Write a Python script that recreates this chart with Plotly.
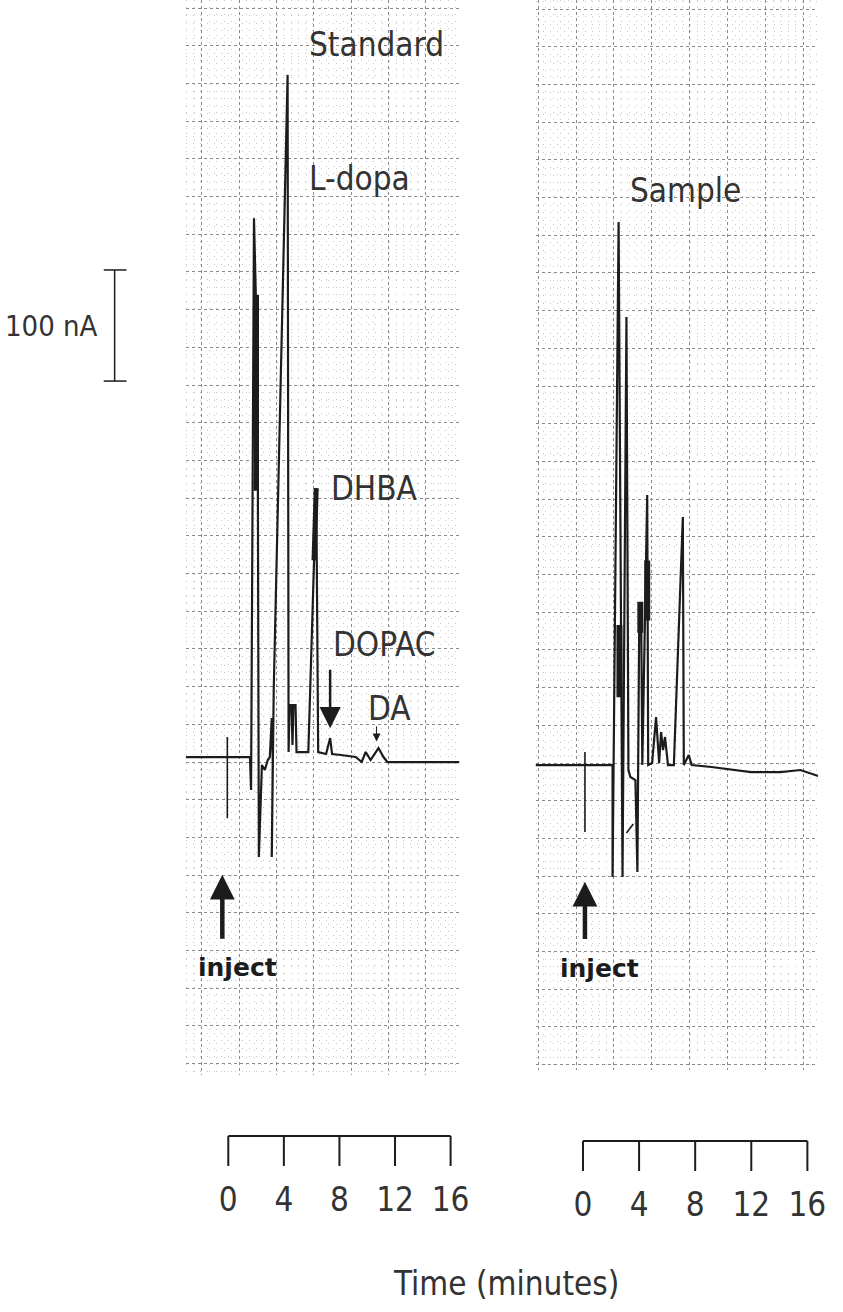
import plotly.graph_objects as go

W, H = 843, 1312
FONT = "Liberation Sans Narrow, DejaVu Sans Condensed, Arial Narrow, sans-serif"
BOLD_FONT = "DejaVu Sans, Liberation Sans, Arial, sans-serif"
INK = "#1c1c1c"
TEXT = "#333333"
GRID_MAJOR = "#8a8a8a"
GRID_MINOR = "#c6c6c6"

# ---- Standard run: time (min) vs detector current (nA above baseline)
std_t = [-3.06, 1.56, 1.64, 1.85, 1.99, 1.92, 2.06, 2.13, 2.20, 2.42, 2.63, 2.84,
         2.99, 3.13, 3.20, 3.13, 3.27, 4.27, 4.34, 4.41, 4.55, 4.62, 4.69, 4.84,
         4.91, 5.76, 6.33, 6.47, 7.04, 7.33, 7.47, 8.11, 9.17, 9.60, 9.89, 10.24,
         10.60, 10.81, 11.17, 11.45, 16.64]
std_i = [0, 0, -29.7, 485, 411, 240, 411, 240, -90, -7.2, -11.7, -2.7,
         0, 35.1, -2.7, -90, 60.3, 614, 4.5, 46.8, 46.8, 10.8, 46.8, 46.8,
         4.5, 4.5, 242, 4.5, 2.7, 17.1, 2.7, 1.8, 0, -4.5, 4.5, -2.7,
         4.5, 8.1, 0, -4.5, -4.5]
# pen overload (heavy ink) segments on the standard trace
std_heavy_t = [2.03, 2.03, None, 6.17, 6.33]
std_heavy_i = [416, 240, None, 177, 242]
# injection mark
std_inj_t = [-0.07, -0.07]
std_inj_i = [18, -55]

# ---- Sample run
smp_t = [-3.38, 2.11, 2.11, 2.54, 2.82, 3.10, 3.24, 3.38, 3.74, 3.88, 4.02, 4.16,
         4.23, 4.58, 4.65, 4.93, 5.21, 5.43, 5.57, 5.71, 5.85, 6.06, 6.48, 7.12,
         7.19, 7.54, 7.75, 9.16, 11.98, 14.09, 15.50, 16.77]
smp_i = [0, 0, -100.8, 488.7, -100.8, 403.2, -4.5, -10.8, -13.5, -96.3, 146.7, 118.8,
         0, 243, 0, 1.8, 43.2, 1.8, 29.7, 13.5, 25.2, 0, 0, 223.2,
         0, 9, 0, -1.8, -6.3, -6.3, -4.5, -9.9]
smp_heavy_t = [2.60, 2.60, None, 4.09, 4.09, None, 4.58, 4.58]
smp_heavy_i = [126, 61, None, 147, 119, None, 184, 130]
smp_hook_t = [3.10, 3.59]
smp_hook_i = [-61.2, -53.1]
smp_inj_t = [0.14, 0.14]
smp_inj_i = [11.7, -60.3]

# ---- time scale bars (minutes)
bar_ticks = [0, 4, 8, 12, 16]

# ---- peak labels (text, time, current)
std_labels = [("Standard", 5.69, 641), ("L-dopa", 5.69, 521), ("DHBA", 7.25, 242),
              ("DOPAC", 7.40, 101), ("DA", 9.89, 44)]
smp_labels = [("Sample", 3.24, 517)]

# ---- arrows: (tip time, tip current, tail current)
std_inject_arrow = (-0.43, -106, -165)
smp_inject_arrow = (0.14, -105, -158)
dopac_arrow = (7.33, 26, 80)
da_arrow = (10.67, 14, 29)
std_inject_text = (0.64, -189)
smp_inject_text = (1.20, -183)

# current scale: 100 nA bracket
scale_nA = 100
scale_low = 338.4


def px(x):
    return x / W


def py(y):
    return (H - y) / H


fig = go.Figure()


def add_line(x, y, xa, ya, width, dash=None):
    fig.add_trace(go.Scatter(x=x, y=y, mode="lines", xaxis=xa, yaxis=ya,
                             line=dict(color=INK, width=width, dash=dash),
                             hoverinfo="skip", showlegend=False))


add_line(std_t, std_i, "x", "y", 2.2)
add_line(std_heavy_t, std_heavy_i, "x", "y", 5)
add_line(std_inj_t, std_inj_i, "x", "y", 1.6)

add_line(smp_t, smp_i, "x2", "y2", 2.2)
add_line(smp_heavy_t, smp_heavy_i, "x2", "y2", 6)
add_line(smp_hook_t, smp_hook_i, "x2", "y2", 1.6)
add_line(smp_inj_t, smp_inj_i, "x2", "y2", 1.6)

# time scale bars built from the tick values
bx, by = [bar_ticks[0], bar_ticks[-1], None], [1, 1, None]
for t in bar_ticks:
    bx += [t, t, None]
    by += [1, 0, None]
add_line(bx, by, "x3", "y3", 2)
add_line(bx, by, "x4", "y4", 2)

hidden = dict(showticklabels=False, ticks="", zeroline=False, showline=False)


def grid_axis(domain, rng, tick0, dtick, anchor):
    return dict(domain=domain, range=rng, anchor=anchor, tick0=tick0, dtick=dtick,
                showgrid=True, gridcolor=GRID_MAJOR, gridwidth=1, griddash="3px,3px",
                minor=dict(tick0=tick0, dtick=dtick / 5, showgrid=True,
                           gridcolor=GRID_MINOR, gridwidth=1, griddash="1px,6px"),
                **hidden)


def bar_axis(domain, rng, anchor):
    return dict(domain=domain, range=rng, anchor=anchor, showgrid=False, zeroline=False,
                showline=False, ticks="", tickmode="array", tickvals=bar_ticks,
                ticktext=[str(v) for v in bar_ticks], ticklabelstandoff=8,
                tickfont=dict(family=FONT, size=33, color=TEXT))


annotations = []
for txt, t, i in std_labels:
    annotations.append(dict(x=t, y=i, xref="x", yref="y", text=txt, showarrow=False,
                            xanchor="left", yanchor="middle",
                            font=dict(family=FONT, size=33, color=TEXT)))
for txt, t, i in smp_labels:
    annotations.append(dict(x=t, y=i, xref="x2", yref="y2", text=txt, showarrow=False,
                            xanchor="left", yanchor="middle",
                            font=dict(family=FONT, size=33, color=TEXT)))


def arrow(spec, xr, yr, width, size):
    t, tip, tail = spec
    return dict(x=t, y=tip, ax=t, ay=tail, xref=xr, yref=yr, axref=xr, ayref=yr,
                text="", showarrow=True, arrowhead=2, arrowsize=size,
                arrowwidth=width, arrowcolor=INK)


annotations += [
    arrow(std_inject_arrow, "x", "y", 4.5, 1.1),
    arrow(smp_inject_arrow, "x2", "y2", 4.5, 1.1),
    arrow(dopac_arrow, "x", "y", 2.5, 1.7),
    arrow(da_arrow, "x", "y", 1, 1.6),
]
for (t, i), xr, yr in [(std_inject_text, "x", "y"), (smp_inject_text, "x2", "y2")]:
    annotations.append(dict(x=t, y=i, xref=xr, yref=yr, text="<b>inject</b>",
                            showarrow=False, xanchor="center", yanchor="middle",
                            font=dict(family=BOLD_FONT, size=25, color=INK)))

annotations.append(dict(x=px(101), y=scale_low + scale_nA / 2, xref="paper", yref="y",
                        text="100 nA", showarrow=False, xanchor="right", yanchor="middle",
                        font=dict(family=FONT, size=29, color=TEXT)))
annotations.append(dict(x=px(512), y=py(1283), xref="paper", yref="paper",
                        text="Time (minutes)", showarrow=False, xanchor="center",
                        yanchor="middle", font=dict(family=FONT, size=33, color=TEXT)))

shapes = [
    dict(type="line", xref="paper", yref="y", x0=px(116), x1=px(116),
         y0=scale_low, y1=scale_low + scale_nA, line=dict(color=INK, width=1.5)),
    dict(type="line", xref="paper", yref="y", x0=px(105), x1=px(128),
         y0=scale_low, y1=scale_low, line=dict(color=INK, width=1.5)),
    dict(type="line", xref="paper", yref="y", x0=px(105), x1=px(128),
         y0=scale_low + scale_nA, y1=scale_low + scale_nA, line=dict(color=INK, width=1.5)),
]

fig.update_layout(
    width=W, height=H, margin=dict(l=0, r=0, t=0, b=0), autosize=False,
    paper_bgcolor="white", plot_bgcolor="white", showlegend=False,
    xaxis=grid_axis([px(188), px(465)], [-3.06, 16.64], 0.78, 2.69, "y"),
    yaxis=grid_axis([py(1075), 1.0], [-286.2, 681.4], -4.5, 33.93, "x"),
    xaxis2=grid_axis([px(542), px(828)], [-3.38, 16.77], -0.49, 2.70, "y2"),
    yaxis2=grid_axis([py(1070), 1.0], [-274.5, 688.6], 1.8, 33.93, "x2"),
    xaxis3=bar_axis([px(188), px(465)], [-3.06, 16.64], "y3"),
    yaxis3=dict(domain=[py(1169), py(1133)], range=[-0.1, 1.1], anchor="x3", visible=False),
    xaxis4=bar_axis([px(542), px(828)], [-3.38, 16.77], "y4"),
    yaxis4=dict(domain=[py(1174), py(1138)], range=[-0.1, 1.1], anchor="x4", visible=False),
    annotations=annotations, shapes=shapes,
)

fig.write_html("out.html", config={"displayModeBar": False})
